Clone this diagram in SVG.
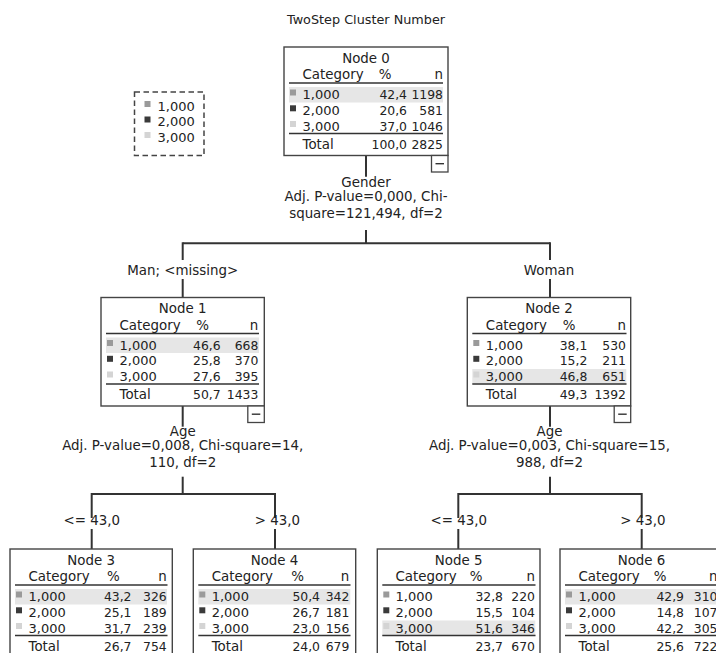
<svg xmlns="http://www.w3.org/2000/svg" width="716" height="653" viewBox="0 0 716 653">
<style>
text{font-family:"DejaVu Sans","Liberation Sans",sans-serif;font-size:13.4px;fill:#222}
.ttl{font-size:12.8px}
.lab{font-size:13px}
.num{font-size:12.4px}
.m{text-anchor:middle}
.e{text-anchor:end}
.box{fill:#fff;stroke:#444;stroke-width:1.4}
.hl{fill:#e6e6e6}
.rule{stroke:#333;stroke-width:1.6}
.c1{fill:#9a9a9a}
.c2{fill:#3a3a3a}
.c3{fill:#d4d4d4}
.btn{fill:#fff;stroke:#444;stroke-width:1.3}
.minus{stroke:#333;stroke-width:1.4}
.conn line{stroke:#333;stroke-width:2}
.legend{fill:none;stroke:#444;stroke-width:1.5;stroke-dasharray:5.5 3.5}
</style>
<rect width="716" height="653" fill="#fff"/>
<text class="ttl m" x="366" y="24">TwoStep Cluster Number</text>

<g id="legend">
<rect class="legend" x="134.5" y="92" width="69.5" height="63.5"/>
<rect class="c1" x="144.5" y="101" width="6" height="6"/><text class="lab" x="157.5" y="110.5">1,000</text>
<rect class="c2" x="144.5" y="116.5" width="6" height="6"/><text class="lab" x="157.5" y="126">2,000</text>
<rect class="c3" x="144.5" y="132" width="6" height="6"/><text class="lab" x="157.5" y="141.5">3,000</text>
</g>

<g id="connectors" class="conn">
<line x1="366" y1="155.5" x2="366" y2="176.7"/>
<line x1="366" y1="230" x2="366" y2="243.3"/>
<line x1="182.7" y1="243.3" x2="550" y2="243.3"/>
<line x1="182.7" y1="242.3" x2="182.7" y2="260"/>
<line x1="182.7" y1="279" x2="182.7" y2="297.5"/>
<line x1="550" y1="242.3" x2="550" y2="260"/>
<line x1="550" y1="279" x2="550" y2="297.5"/>
<line x1="182.7" y1="406" x2="182.7" y2="426.7"/>
<line x1="182.7" y1="476.7" x2="182.7" y2="494"/>
<line x1="91.7" y1="494" x2="275" y2="494"/>
<line x1="91.7" y1="493" x2="91.7" y2="518"/>
<line x1="91.7" y1="529" x2="91.7" y2="549"/>
<line x1="275" y1="493" x2="275" y2="518"/>
<line x1="275" y1="529" x2="275" y2="549"/>
<line x1="550" y1="406" x2="550" y2="426.7"/>
<line x1="550" y1="476.7" x2="550" y2="494"/>
<line x1="458.3" y1="494" x2="641.7" y2="494"/>
<line x1="458.3" y1="493" x2="458.3" y2="518"/>
<line x1="458.3" y1="529" x2="458.3" y2="549"/>
<line x1="641.7" y1="493" x2="641.7" y2="518"/>
<line x1="641.7" y1="529" x2="641.7" y2="549"/>
</g>

<g id="split-labels">
<text class="m" x="366" y="186.5">Gender</text>
<text class="m" x="366" y="201">Adj. P-value=0,000, Chi-</text>
<text class="m" x="366" y="218">square=121,494, df=2</text>
<text class="m" x="182.7" y="274.5">Man; &lt;missing&gt;</text>
<text class="m" x="549" y="274.5">Woman</text>
<text class="m" x="182.7" y="435.8">Age</text>
<text class="m" x="182.7" y="450.3">Adj. P-value=0,008, Chi-square=14,</text>
<text class="m" x="182.7" y="467.3">110, df=2</text>
<text class="m" x="549.5" y="435.8">Age</text>
<text class="m" x="549.5" y="450.3">Adj. P-value=0,003, Chi-square=15,</text>
<text class="m" x="549.5" y="467.3">988, df=2</text>
<text class="m" x="91.7" y="525">&lt;= 43,0</text>
<text class="m" x="277.5" y="525">&gt; 43,0</text>
<text class="m" x="458.8" y="525">&lt;= 43,0</text>
<text class="m" x="643" y="525">&gt; 43,0</text>
</g>

<g id="node0">
<rect class="box" x="284" y="47" width="164" height="108.5"/>
<rect class="hl" x="289" y="87" width="154" height="15.5"/>
<text class="m" x="366" y="62.5">Node 0</text>
<text x="302.5" y="79">Category</text><text class="m" x="385" y="79">%</text><text class="e" x="443" y="79">n</text>
<line class="rule" x1="289" y1="83" x2="443" y2="83"/>
<rect class="c1" x="290" y="89.5" width="6" height="6"/><text class="lab" x="302.5" y="99">1,000</text><text class="num e" x="407" y="99">42,4</text><text class="num e" x="443" y="99">1198</text>
<rect class="c2" x="290" y="105.3" width="6" height="6"/><text class="lab" x="302.5" y="114.8">2,000</text><text class="num e" x="407" y="114.8">20,6</text><text class="num e" x="443" y="114.8">581</text>
<rect class="c3" x="290" y="121" width="6" height="6"/><text class="lab" x="302.5" y="130.5">3,000</text><text class="num e" x="407" y="130.5">37,0</text><text class="num e" x="443" y="130.5">1046</text>
<line class="rule" x1="289" y1="133.5" x2="443" y2="133.5"/>
<text x="302.5" y="148.5">Total</text><text class="num e" x="407" y="148.5">100,0</text><text class="num e" x="443" y="148.5">2825</text>
<rect class="btn" x="431.5" y="155.5" width="16.5" height="16.5"/>
<line class="minus" x1="435.5" y1="163.7" x2="444" y2="163.7"/>
</g>

<g id="node1">
<rect class="box" x="101" y="297.5" width="163.3" height="108.5"/>
<rect class="hl" x="106" y="337.5" width="153" height="15.5"/>
<text class="m" x="182.7" y="313">Node 1</text>
<text x="119.5" y="329.5">Category</text><text class="m" x="202.7" y="329.5">%</text><text class="e" x="258.3" y="329.5">n</text>
<line class="rule" x1="106" y1="333.5" x2="259" y2="333.5"/>
<rect class="c1" x="107" y="340" width="6" height="6"/><text class="lab" x="119.5" y="349.5">1,000</text><text class="num e" x="220.7" y="349.5">46,6</text><text class="num e" x="258.3" y="349.5">668</text>
<rect class="c2" x="107" y="355.8" width="6" height="6"/><text class="lab" x="119.5" y="365.3">2,000</text><text class="num e" x="220.7" y="365.3">25,8</text><text class="num e" x="258.3" y="365.3">370</text>
<rect class="c3" x="107" y="371.5" width="6" height="6"/><text class="lab" x="119.5" y="381">3,000</text><text class="num e" x="220.7" y="381">27,6</text><text class="num e" x="258.3" y="381">395</text>
<line class="rule" x1="106" y1="384" x2="259" y2="384"/>
<text x="119.5" y="399">Total</text><text class="num e" x="220.7" y="399">50,7</text><text class="num e" x="258.3" y="399">1433</text>
<rect class="btn" x="247.8" y="406" width="16.5" height="16.5"/>
<line class="minus" x1="251.8" y1="414.2" x2="260.3" y2="414.2"/>
</g>

<g id="node2">
<rect class="box" x="467.3" y="297.5" width="163.4" height="108.5"/>
<rect class="hl" x="472.3" y="369" width="154" height="15.5"/>
<text class="m" x="549" y="313">Node 2</text>
<text x="485.8" y="329.5">Category</text><text class="m" x="569" y="329.5">%</text><text class="e" x="626" y="329.5">n</text>
<line class="rule" x1="472.3" y1="333.5" x2="626.5" y2="333.5"/>
<rect class="c1" x="473.3" y="340" width="6" height="6"/><text class="lab" x="485.8" y="349.5">1,000</text><text class="num e" x="587.3" y="349.5">38,1</text><text class="num e" x="626" y="349.5">530</text>
<rect class="c2" x="473.3" y="355.8" width="6" height="6"/><text class="lab" x="485.8" y="365.3">2,000</text><text class="num e" x="587.3" y="365.3">15,2</text><text class="num e" x="626" y="365.3">211</text>
<rect class="c3" x="473.3" y="371.5" width="6" height="6"/><text class="lab" x="485.8" y="381">3,000</text><text class="num e" x="587.3" y="381">46,8</text><text class="num e" x="626" y="381">651</text>
<line class="rule" x1="472.3" y1="384" x2="626.5" y2="384"/>
<text x="485.8" y="399">Total</text><text class="num e" x="587.3" y="399">49,3</text><text class="num e" x="626" y="399">1392</text>
<rect class="btn" x="614.2" y="406" width="16.5" height="16.5"/>
<line class="minus" x1="618.2" y1="414.2" x2="626.7" y2="414.2"/>
</g>

<g id="node3">
<rect class="box" x="10" y="549" width="162.3" height="108.5"/>
<rect class="hl" x="15" y="589" width="152" height="15.5"/>
<text class="m" x="91.2" y="564.5">Node 3</text>
<text x="28.5" y="581">Category</text><text class="m" x="113.3" y="581">%</text><text class="e" x="166.7" y="581">n</text>
<line class="rule" x1="15" y1="585" x2="167.5" y2="585"/>
<rect class="c1" x="16" y="591.5" width="6" height="6"/><text class="lab" x="28.5" y="601">1,000</text><text class="num e" x="131.5" y="601">43,2</text><text class="num e" x="166.7" y="601">326</text>
<rect class="c2" x="16" y="607.3" width="6" height="6"/><text class="lab" x="28.5" y="616.8">2,000</text><text class="num e" x="131.5" y="616.8">25,1</text><text class="num e" x="166.7" y="616.8">189</text>
<rect class="c3" x="16" y="623" width="6" height="6"/><text class="lab" x="28.5" y="632.5">3,000</text><text class="num e" x="131.5" y="632.5">31,7</text><text class="num e" x="166.7" y="632.5">239</text>
<line class="rule" x1="15" y1="635.5" x2="167.5" y2="635.5"/>
<text x="28.5" y="650.5">Total</text><text class="num e" x="131.5" y="650.5">26,7</text><text class="num e" x="166.7" y="650.5">754</text>
</g>

<g id="node4">
<rect class="box" x="193.3" y="549" width="162.4" height="108.5"/>
<rect class="hl" x="198.3" y="589" width="152" height="15.5"/>
<text class="m" x="274.5" y="564.5">Node 4</text>
<text x="211.7" y="581">Category</text><text class="m" x="297.7" y="581">%</text><text class="e" x="349.3" y="581">n</text>
<line class="rule" x1="198.3" y1="585" x2="350.5" y2="585"/>
<rect class="c1" x="199.3" y="591.5" width="6" height="6"/><text class="lab" x="211.7" y="601">1,000</text><text class="num e" x="320" y="601">50,4</text><text class="num e" x="349.3" y="601">342</text>
<rect class="c2" x="199.3" y="607.3" width="6" height="6"/><text class="lab" x="211.7" y="616.8">2,000</text><text class="num e" x="320" y="616.8">26,7</text><text class="num e" x="349.3" y="616.8">181</text>
<rect class="c3" x="199.3" y="623" width="6" height="6"/><text class="lab" x="211.7" y="632.5">3,000</text><text class="num e" x="320" y="632.5">23,0</text><text class="num e" x="349.3" y="632.5">156</text>
<line class="rule" x1="198.3" y1="635.5" x2="350.5" y2="635.5"/>
<text x="211.7" y="650.5">Total</text><text class="num e" x="320" y="650.5">24,0</text><text class="num e" x="349.3" y="650.5">679</text>
</g>

<g id="node5">
<rect class="box" x="377.3" y="549" width="162.7" height="108.5"/>
<rect class="hl" x="382.3" y="620.5" width="153" height="15.5"/>
<text class="m" x="458.6" y="564.5">Node 5</text>
<text x="395.5" y="581">Category</text><text class="m" x="476" y="581">%</text><text class="e" x="535" y="581">n</text>
<line class="rule" x1="382.3" y1="585" x2="535.5" y2="585"/>
<rect class="c1" x="383.3" y="591.5" width="6" height="6"/><text class="lab" x="395.5" y="601">1,000</text><text class="num e" x="503" y="601">32,8</text><text class="num e" x="535" y="601">220</text>
<rect class="c2" x="383.3" y="607.3" width="6" height="6"/><text class="lab" x="395.5" y="616.8">2,000</text><text class="num e" x="503" y="616.8">15,5</text><text class="num e" x="535" y="616.8">104</text>
<rect class="c3" x="383.3" y="623" width="6" height="6"/><text class="lab" x="395.5" y="632.5">3,000</text><text class="num e" x="503" y="632.5">51,6</text><text class="num e" x="535" y="632.5">346</text>
<line class="rule" x1="382.3" y1="635.5" x2="535.5" y2="635.5"/>
<text x="395.5" y="650.5">Total</text><text class="num e" x="503" y="650.5">23,7</text><text class="num e" x="535" y="650.5">670</text>
</g>

<g id="node6">
<rect class="box" x="560" y="549" width="163" height="108.5"/>
<rect class="hl" x="565" y="589" width="153" height="15.5"/>
<text class="m" x="641.5" y="564.5">Node 6</text>
<text x="578.5" y="581">Category</text><text class="m" x="660" y="581">%</text><text class="e" x="717.5" y="581">n</text>
<line class="rule" x1="565" y1="585" x2="718" y2="585"/>
<rect class="c1" x="566" y="591.5" width="6" height="6"/><text class="lab" x="578.5" y="601">1,000</text><text class="num e" x="684" y="601">42,9</text><text class="num e" x="717.5" y="601">310</text>
<rect class="c2" x="566" y="607.3" width="6" height="6"/><text class="lab" x="578.5" y="616.8">2,000</text><text class="num e" x="684" y="616.8">14,8</text><text class="num e" x="717.5" y="616.8">107</text>
<rect class="c3" x="566" y="623" width="6" height="6"/><text class="lab" x="578.5" y="632.5">3,000</text><text class="num e" x="684" y="632.5">42,2</text><text class="num e" x="717.5" y="632.5">305</text>
<line class="rule" x1="565" y1="635.5" x2="718" y2="635.5"/>
<text x="578.5" y="650.5">Total</text><text class="num e" x="684" y="650.5">25,6</text><text class="num e" x="717.5" y="650.5">722</text>
</g>
</svg>
